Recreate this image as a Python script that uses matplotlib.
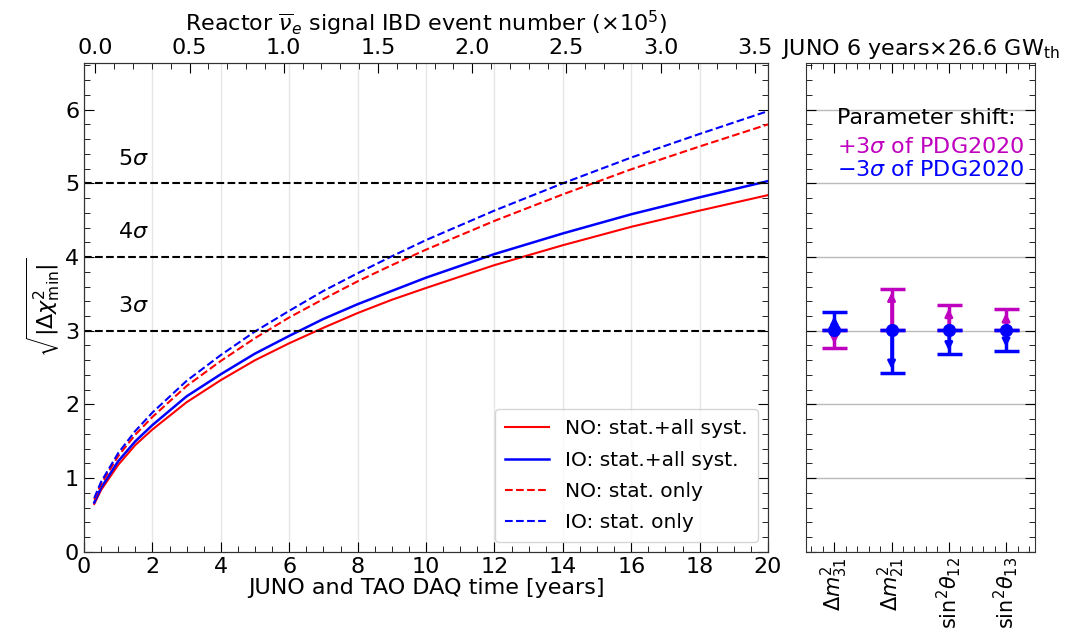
import matplotlib
matplotlib.use("Agg")
import matplotlib.pyplot as plt
from matplotlib.ticker import MultipleLocator

# DAQ time [years]
years = [0.3, 0.5, 1, 1.5, 2, 3, 4, 5, 6, 7, 8, 9, 10, 12, 14, 16, 18, 20]

# sqrt(|dchi2_min|)
no_syst = [0.65, 0.84, 1.18, 1.45, 1.66, 2.03, 2.33, 2.60, 2.83, 3.04, 3.24, 3.42,
           3.58, 3.89, 4.16, 4.41, 4.63, 4.84]
io_syst = [0.67, 0.87, 1.23, 1.50, 1.72, 2.11, 2.41, 2.69, 2.93, 3.16, 3.36, 3.54,
           3.72, 4.04, 4.32, 4.58, 4.81, 5.03]
no_stat = [0.71, 0.92, 1.30, 1.59, 1.83, 2.25, 2.59, 2.90, 3.18, 3.43, 3.67, 3.89,
           4.10, 4.49, 4.85, 5.19, 5.50, 5.80]
io_stat = [0.73, 0.95, 1.34, 1.64, 1.89, 2.32, 2.67, 2.99, 3.27, 3.54, 3.78, 4.01,
           4.23, 4.63, 5.00, 5.35, 5.67, 5.98]

sigma_levels = [3, 4, 5]

# right panel: parameter shifts for 6 years
params = [r"$\Delta m^2_{31}$", r"$\Delta m^2_{21}$",
          r"$\mathrm{sin}^2\theta_{12}$", r"$\mathrm{sin}^2\theta_{13}$"]
central = [3.01, 3.01, 3.01, 3.01]
plus3 = [2.77, 3.57, 3.35, 3.29]   # +3 sigma of PDG2020
minus3 = [3.25, 2.43, 2.68, 2.73]  # -3 sigma of PDG2020

fs = 16
plt.rcParams["font.size"] = fs

fig = plt.figure(figsize=(10.7, 6.38), dpi=100)
ax = fig.add_axes([0.0785, 0.135, 0.6393, 0.766])
ax2 = fig.add_axes([0.753, 0.135, 0.214, 0.766])

ax.plot(years, no_syst, color="r", lw=1.5, label="NO: stat.+all syst.")
ax.plot(years, io_syst, color="b", lw=1.8, label="IO: stat.+all syst.")
ax.plot(years, no_stat, color="r", lw=1.5, ls="--", label="NO: stat. only")
ax.plot(years, io_stat, color="b", lw=1.5, ls="--", label="IO: stat. only")

for s in sigma_levels:
    ax.axhline(s, color="k", ls="--", lw=1.5)
    ax.text(1.0, s + 0.2, rf"{s}$\sigma$", fontsize=fs, va="bottom")

ax.set_xlim(0, 20)
ax.set_ylim(0, 6.63)
ax.xaxis.set_major_locator(MultipleLocator(2))
ax.xaxis.set_minor_locator(MultipleLocator(0.5))
ax.yaxis.set_major_locator(MultipleLocator(1))
ax.yaxis.set_minor_locator(MultipleLocator(0.2))
ax.grid(axis="x", color="#e6e6e6", lw=1)
ax.tick_params(which="both", direction="in", right=True, labelsize=fs)
ax.tick_params(which="major", length=7)
ax.tick_params(which="minor", length=4)
ax.set_xlabel("JUNO and TAO DAQ time [years]", fontsize=fs, labelpad=1)
ax.set_ylabel(r"$\sqrt{|\Delta\chi^2_{\rm min}|}$", fontsize=fs, labelpad=2)
ax.legend(loc="lower right", fontsize=14.5, handlelength=2.2, borderpad=0.5,
          labelspacing=0.6, handletextpad=0.8)

top = ax.twiny()
top.set_xlim(-0.06, 3.57)
top.xaxis.set_major_locator(MultipleLocator(0.5))
top.xaxis.set_minor_locator(MultipleLocator(0.1))
top.xaxis.set_major_formatter(plt.FormatStrFormatter("%.1f"))
top.tick_params(which="both", direction="in", labelsize=fs)
top.tick_params(which="major", length=7)
top.tick_params(which="minor", length=4)
top.set_xlabel(r"Reactor $\overline{\nu}_{e}$ signal IBD event number ($\times10^5$)",
               fontsize=fs, labelpad=5)

# right panel
xs = list(range(len(params)))
for x, c, p, m in zip(xs, central, plus3, minus3):
    ax2.errorbar([x], [c], yerr=[[max(c - p, 0)], [max(p - c, 0)]], fmt="none",
                 ecolor="m", elinewidth=2.5, capsize=9, capthick=2.5)
    ax2.errorbar([x], [c], yerr=[[max(c - m, 0)], [max(m - c, 0)]], fmt="none",
                 ecolor="b", elinewidth=2.5, capsize=9, capthick=2.5)
    for end, col in ((p, "m"), (m, "b")):
        ax2.annotate("", xy=(x, end + (0.05 if end < c else -0.05)), xytext=(x, c),
                     arrowprops=dict(arrowstyle="-|>", color=col, lw=2,
                                     mutation_scale=11, shrinkA=0, shrinkB=0))
ax2.plot(xs, central, "o", color="b", ms=8.5, zorder=5)

ax2.set_xlim(-0.5, 3.5)
ax2.set_ylim(0, 6.63)
ax2.set_xticks(xs)
ax2.set_xticklabels(params, rotation=90, fontsize=15)
ax2.xaxis.set_minor_locator(MultipleLocator(0.2))
ax2.yaxis.set_major_locator(MultipleLocator(1))
ax2.yaxis.set_minor_locator(MultipleLocator(0.2))
ax2.tick_params(which="both", direction="in", top=True, right=True, labelleft=False)
ax2.tick_params(which="major", length=7)
ax2.tick_params(which="minor", length=4)
ax2.grid(axis="y", color="#bbbbbb", lw=1)
ax2.set_title(r"JUNO 6 years$\times$26.6 GW$_{\rm th}$", fontsize=fs, pad=6)

ax2.text(0.04, 5.88, "Parameter shift:", ha="left", va="center", fontsize=fs)
ax2.text(0.04, 5.49, r"+3$\sigma$ of PDG2020", ha="left", va="center", fontsize=fs, color="m")
ax2.text(0.04, 5.18, r"$-$3$\sigma$ of PDG2020", ha="left", va="center", fontsize=fs, color="b")

for a in (ax, ax2, top):
    for sp in a.spines.values():
        sp.set_color("#333333")

fig.savefig("out.png", dpi=100)
